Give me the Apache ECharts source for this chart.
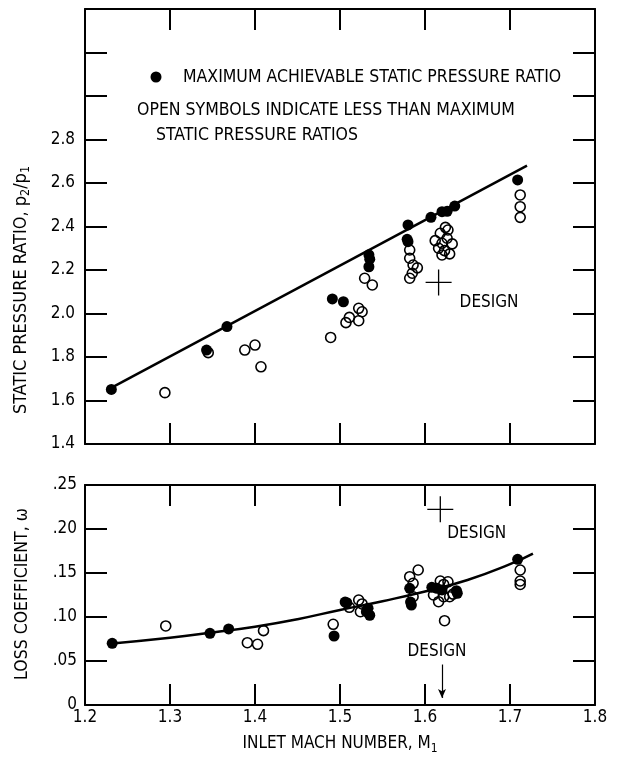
<!DOCTYPE html>
<html><head><meta charset="utf-8">
<script src="https://cdn.jsdelivr.net/npm/echarts@6/dist/echarts.min.js"></script>
<style>html,body{margin:0;padding:0;background:#fff}#c{width:639px;height:759px}</style>
</head><body><div id="c"></div>
<script>
const FONT = "'DejaVu Sans Condensed','Liberation Sans Narrow','DejaVu Sans',sans-serif";

// x axis: inlet Mach number
const machRange = [1.2, 1.8];
const machStep = 0.1;
// top chart: static pressure ratio
const pressureRange = [1.4, 3.4];
const pressureStep = 0.2;
const pressureLabelMax = 2.8;
// bottom chart: loss coefficient
const lossRange = [0, 0.25];
const lossStep = 0.05;

// top panel - maximum achievable static pressure ratio (filled)
const pressureMax = [
  [1.231,1.651],[1.343,1.832],[1.367,1.94],[1.491,2.067],[1.504,2.054],
  [1.534,2.27],[1.535,2.25],[1.534,2.215],[1.580,2.407],[1.579,2.341],
  [1.580,2.33],[1.607,2.442],[1.620,2.468],[1.626,2.47],[1.635,2.494],
  [1.709,2.614]
];
// top panel - less than maximum (open)
const pressureOpen = [
  [1.294,1.636],[1.345,1.82],[1.388,1.832],[1.400,1.855],[1.407,1.755],
  [1.489,1.89],[1.507,1.958],[1.511,1.982],[1.522,1.967],[1.522,2.024],
  [1.526,2.008],[1.529,2.162],[1.538,2.131],[1.582,2.292],[1.582,2.254],
  [1.586,2.223],[1.591,2.21],[1.582,2.162],[1.585,2.185],
  [1.624,2.396],[1.618,2.369],[1.626,2.346],[1.612,2.335],[1.620,2.323],
  [1.632,2.32],[1.616,2.30],[1.623,2.289],[1.629,2.274],[1.620,2.269],
  [1.627,2.384],
  [1.712,2.545],[1.712,2.491],[1.712,2.442]
];
const pressureFit = [[1.233,1.663],[1.72,2.68]];
const pressureDesign = [[1.616,2.143]];

// bottom panel - loss coefficient
const lossMax = [
  [1.232,0.0701],[1.347,0.0814],[1.369,0.0864],[1.493,0.0784],[1.508,0.1163],
  [1.506,0.117],[1.531,0.106],[1.535,0.102],[1.533,0.110],[1.582,0.1326],
  [1.584,0.1136],[1.583,0.117],[1.608,0.1337],[1.614,0.1326],[1.620,0.1307],
  [1.637,0.1299],[1.638,0.127],[1.709,0.1655]
];
const lossOpen = [
  [1.295,0.0898],[1.391,0.0708],[1.403,0.069],[1.410,0.0845],[1.492,0.0917],
  [1.522,0.1193],[1.526,0.1148],[1.524,0.106],[1.511,0.111],[1.582,0.1458],
  [1.592,0.1534],[1.586,0.1383],[1.586,0.123],[1.618,0.1409],[1.627,0.14],
  [1.622,0.137],[1.610,0.125],[1.616,0.1174],[1.622,0.123],[1.629,0.123],
  [1.633,0.126],[1.623,0.0958],[1.712,0.1534],[1.712,0.1409],[1.712,0.137]
];
const lossFit = [
  [1.232,0.070],[1.30,0.0765],[1.35,0.0825],[1.40,0.089],[1.45,0.0975],
  [1.50,0.108],[1.55,0.118],[1.60,0.129],[1.65,0.142],[1.70,0.160],[1.727,0.172]
];
const lossDesign = [[1.618,0.2224]];
const lossDesignArrow = [[1.62,0.046],[1.62,0.008]];

const BLACK = '#000';
const FS = 17;
const txt = (s) => Object.assign({fontFamily: FONT, fontSize: FS, color: BLACK}, s || {});
const rich = {
  a: {fontFamily: FONT, fontSize: FS, color: BLACK},
  s: {fontFamily: FONT, fontSize: 12, color: BLACK, padding: [10,0,0,0]}
};
const richY = {
  a: {fontFamily: FONT, fontSize: 18, color: BLACK},
  s: {fontFamily: FONT, fontSize: 12.5, color: BLACK, padding: [10,0,0,0]}
};

function xAx(grid, pos, labels) {
  return {
    gridIndex: grid, type: 'value', position: pos,
    min: machRange[0], max: machRange[1], interval: machStep,
    axisLine: {show: true, onZero: false, lineStyle: {color: BLACK, width: 2}},
    axisTick: {show: true, inside: true, length: 21, lineStyle: {color: BLACK, width: 2}},
    axisLabel: Object.assign({show: labels, margin: 4, formatter: v => v.toFixed(1)}, txt()),
    splitLine: {show: false}
  };
}
function yAx(grid, pos, range, step, labels, fmt, margin) {
  return {
    gridIndex: grid, type: 'value', position: pos,
    min: range[0], max: range[1], interval: step,
    axisLine: {show: true, onZero: false, lineStyle: {color: BLACK, width: 2}},
    axisTick: {show: true, inside: true, length: 22, lineStyle: {color: BLACK, width: 2}},
    axisLabel: Object.assign({show: labels, margin: margin, formatter: fmt}, txt()),
    splitLine: {show: false}
  };
}

const xAxes = [xAx(0,'bottom',false), xAx(0,'top',false), xAx(1,'bottom',true), xAx(1,'top',false)];
xAxes[2].name = '{a|INLET MACH NUMBER, M}{s|1}';
xAxes[2].nameLocation = 'middle';
xAxes[2].nameGap = 28;
xAxes[2].nameTextStyle = {rich: rich};

const yAxes = [
  yAx(0,'left',pressureRange,pressureStep,true, v => v <= pressureLabelMax + 1e-6 ? v.toFixed(1) : '', 10),
  yAx(0,'right',pressureRange,pressureStep,false, null, 8),
  yAx(1,'left',lossRange,lossStep,true, v => v === 0 ? '0' : v.toFixed(2).replace(/^0/, ''), 8),
  yAx(1,'right',lossRange,lossStep,false, null, 8)
];

const openStyle = {color: 'rgba(0,0,0,0)', borderColor: BLACK, borderWidth: 1.6, opacity: 1};
const fillStyle = {color: BLACK, opacity: 1};
const crossPath = 'path://M-0.05,-1H0.05V-0.05H1V0.05H0.05V1H-0.05V0.05H-1V-0.05H-0.05Z';

const option = {
  backgroundColor: '#fff',
  animation: false,
  grid: [
    {left: 85, top: 9, width: 510, height: 435},
    {left: 85, top: 485, width: 510, height: 220}
  ],
  xAxis: xAxes,
  yAxis: yAxes,
  series: [
    {type: 'line', xAxisIndex: 0, yAxisIndex: 0, data: pressureFit, showSymbol: false, symbol: 'none',
     lineStyle: {color: BLACK, width: 2.5}, z: 2},
    {type: 'scatter', xAxisIndex: 0, yAxisIndex: 0, data: pressureOpen, symbol: 'circle', symbolSize: 10,
     itemStyle: openStyle, z: 3},
    {type: 'scatter', xAxisIndex: 0, yAxisIndex: 0, data: pressureMax, symbol: 'circle', symbolSize: 11,
     itemStyle: fillStyle, z: 4},
    {type: 'scatter', xAxisIndex: 0, yAxisIndex: 0, data: pressureDesign, symbol: crossPath, symbolSize: 26,
     itemStyle: fillStyle, z: 4,
     label: {show: true, formatter: 'DESIGN', position: 'right', distance: 5, offset: [3, 20],
             fontFamily: FONT, fontSize: FS, color: BLACK}},

    {type: 'line', xAxisIndex: 2, yAxisIndex: 2, data: lossFit, smooth: true, showSymbol: false, symbol: 'none',
     lineStyle: {color: BLACK, width: 2.5}, z: 2},
    {type: 'scatter', xAxisIndex: 2, yAxisIndex: 2, data: lossOpen, symbol: 'circle', symbolSize: 10,
     itemStyle: openStyle, z: 3},
    {type: 'scatter', xAxisIndex: 2, yAxisIndex: 2, data: lossMax, symbol: 'circle', symbolSize: 11,
     itemStyle: fillStyle, z: 4},
    {type: 'scatter', xAxisIndex: 2, yAxisIndex: 2, data: lossDesign, symbol: crossPath, symbolSize: 26,
     itemStyle: fillStyle, z: 4,
     label: {show: true, formatter: 'DESIGN', position: 'right', distance: 5, offset: [-11, 24],
             fontFamily: FONT, fontSize: FS, color: BLACK}},
    {type: 'scatter', xAxisIndex: 2, yAxisIndex: 2, data: [lossDesignArrow[0]], symbolSize: 1,
     itemStyle: {color: 'rgba(0,0,0,0)', opacity: 1},
     label: {show: true, formatter: 'DESIGN', position: 'top', distance: 4, offset: [-5, 0],
             fontFamily: FONT, fontSize: FS, color: BLACK},
     markLine: {silent: true, symbol: ['none', 'arrow'], symbolSize: [6, 9], animation: false,
       lineStyle: {color: BLACK, width: 1.2, type: 'solid', opacity: 1}, label: {show: false},
       data: [[{coord: lossDesignArrow[0]}, {coord: lossDesignArrow[1]}]]}}
  ],
  graphic: [
    {type: 'circle', shape: {cx: 156, cy: 77, r: 5.5}, style: {fill: BLACK}},
    {type: 'text', x: 183, y: 77, style: {text: 'MAXIMUM ACHIEVABLE STATIC PRESSURE RATIO', font: '17.5px ' + FONT,
      fill: BLACK, verticalAlign: 'middle', align: 'left'}},
    {type: 'text', x: 137, y: 110, style: {text: 'OPEN SYMBOLS INDICATE LESS THAN MAXIMUM', font: '17.5px ' + FONT,
      fill: BLACK, verticalAlign: 'middle', align: 'left'}},
    {type: 'text', x: 156, y: 135, style: {text: 'STATIC PRESSURE RATIOS', font: '17.5px ' + FONT,
      fill: BLACK, verticalAlign: 'middle', align: 'left'}},
    {type: 'text', x: 21, y: 290, rotation: Math.PI / 2,
     style: {text: '{a|STATIC PRESSURE RATIO, p}{s|2}{a|/p}{s|1}', rich: richY, align: 'center', verticalAlign: 'middle'}},
    {type: 'text', x: 22, y: 594, rotation: Math.PI / 2,
     style: {text: 'LOSS COEFFICIENT, ω', font: '17.5px ' + FONT, fill: BLACK, align: 'center', verticalAlign: 'middle'}}
  ]
};

const chart = echarts.init(document.getElementById('c'), null, {renderer: 'canvas'});
chart.setOption(option);
</script>
</body></html>
